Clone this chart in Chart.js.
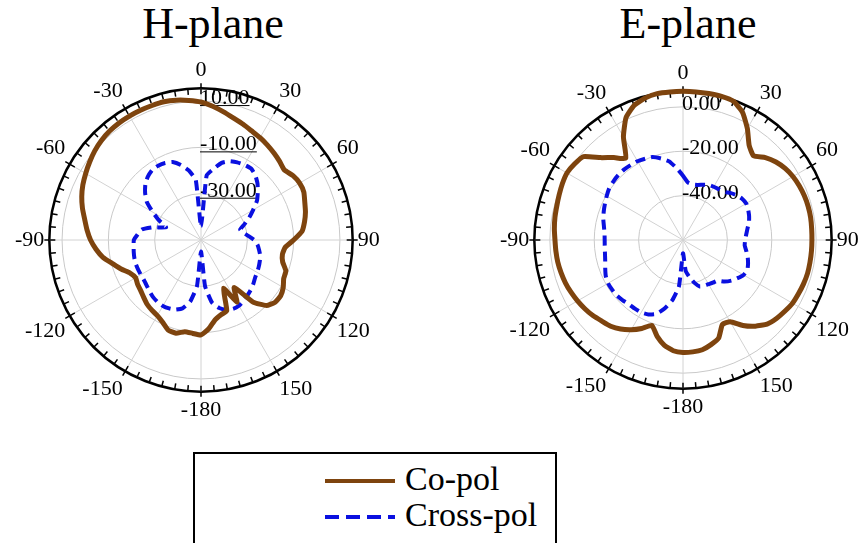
<!DOCTYPE html>
<html>
<head>
<meta charset="utf-8">
<script src="https://cdn.jsdelivr.net/npm/chart.js@4.4.1/dist/chart.umd.min.js"></script>
<style>
  body { margin: 0; width: 862px; height: 543px; background: #fff; position: relative; overflow: hidden; font-family: "Liberation Serif", serif; }
  .title { position: absolute; top: 2px; width: 220px; text-align: center; font-size: 44px; line-height: 44px; color: #000; }
  canvas { position: absolute; }
  #legendBox { position: absolute; left: 193px; top: 452px; width: 360px; height: 110px; border: 2.5px solid #000; }
  .legText { position: absolute; left: 405px; font-size: 34px; line-height: 34px; color: #000; }
  .legLine { position: absolute; left: 325px; }
</style>
</head>
<body>
<div class="title" style="left:103px">H-plane</div>
<div class="title" style="left:578px">E-plane</div>
<canvas id="hPlane" width="372" height="372" style="left:12px; top:54px"></canvas>
<canvas id="ePlane" width="366" height="366" style="left:497px; top:57px"></canvas>
<div id="legendBox"></div>
<svg class="legLine" style="top:476px" width="72" height="10"><line x1="0" y1="5" x2="70" y2="5" stroke="#7e440e" stroke-width="4"/></svg>
<div class="legText" style="top:462px">Co-pol</div>
<svg class="legLine" style="top:512px" width="72" height="10"><line x1="0" y1="5" x2="70" y2="5" stroke="#0a10e0" stroke-width="4" stroke-dasharray="14 7"/></svg>
<div class="legText" style="top:498px">Cross-pol</div>
<script>
// angles every 5 degrees, clockwise from top
const angleLabels = [];
for (let a = 0; a < 360; a += 5) angleLabels.push(String(a <= 150 ? a : a - 360));

// H-plane (dB)
const hCoPol = [
  9.6, 8, 6.2, 4.5, 3.2, 1.9, 1, 0, -1, -2, -3, -1.5,
  -0.8, -1, -2.3, -3.3, -4.6, -6.2, -10, -13.5, -14.3, -13.5, -11, -10.6,
  -9, -8, -8.2, -10, -15, -25, -19, -27, -17.5, -16.6, -15, -11.5,
  -9, -9.5, -9.8, -8.3, -8.6, -10.8, -12.3, -13, -13.8, -15, -16, -16.6,
  -17.4, -16.2, -13.3, -10.5, -7, -4.5, -2.3, -0.6, 1, 3, 4.8, 6.3,
  7.5, 8.7, 9.9, 10.8, 11.4, 11.7, 11.8, 11.8, 11.8, 11.8, 11.3, 10.5
];
const hCrossPol = [
  -44, -22, -18.8, -15.5, -13.8, -13, -12.5, -12.3, -13.5, -15.5, -18, -20.5,
  -24, -27, -30, -32.5, -31.5, -29.5, -27, -25.5, -24.5, -23.5, -23, -22.5,
  -22, -21.5, -20.5, -19.6, -18.8, -18, -17.2, -17.2, -18, -19.6, -22.5, -30,
  -45, -30, -23, -19.5, -18, -17.4, -17.1, -17.3, -17.8, -18.6, -19.4, -19.9,
  -20, -20, -20, -20.2, -20.5, -20.8, -21, -22.5, -24, -28.8, -34, -30,
  -26, -21.5, -18.5, -16, -14.3, -13.2, -13, -13.3, -14.2, -16.5, -19.5, -24
];
const hRange = [-50, 15.5];
const hRings = [-30, -10, 10];

// E-plane (dB)
const eCoPol = [
  7, 7, 7, 7, 6.5, 3.5, -2, -8, -10.5, -7.5, -5.3, -3.8,
  -2.8, -2.2, -1.8, -1.6, -1.6, -1.8, -1.9, -1.9, -1.9, -1.9, -2.2, -2.6,
  -3, -4, -5, -6.4, -9.3, -13, -17.5, -18, -13, -11.2, -9.8, -9.4,
  -9.3, -9.9, -11.8, -15, -19, -16, -13.3, -11, -9.3, -8.3, -7, -6,
  -5.1, -4.3, -3.6, -3.1, -2.7, -2.5, -2.3, -1.8, -1.4, -1.1, -0.6, 0,
  0.4, -0.3, -1.5, -7.5, -11.5, -15, -6.3, 0.8, 4.5, 6.2, 7, 7
];
const eCrossPol = [
  -31, -34, -34.6, -34.3, -33.5, -32.6, -32.3, -32, -31.6, -30, -28.5, -27.5,
  -27.1, -27.6, -28.3, -29.2, -30.5, -31.4, -32, -32.1, -31, -29.8, -28.8, -28,
  -28.5, -30, -31.5, -33.5, -36, -36.5, -37, -37.3, -37.7, -40, -43, -46,
  -54, -39, -32.5, -28, -24.5, -23, -22.3, -22.2, -22.2, -21.6, -21.1, -21,
  -21, -21.6, -22.7, -23.7, -24.3, -24.6, -24.7, -24.5, -23.8, -22.8, -22, -21.2,
  -20.3, -19.4, -19, -18.7, -18.6, -18.8, -19, -19.6, -20.2, -22, -24, -27.5
];
const eRange = [-60, 7];
const eRings = [-40, -20, 0];

const coColor = '#7e440e';
const crossColor = '#0a10e0';
const serif = '"Liberation Serif", "Times New Roman", serif';

// short marks round the outer ring, one per label (5 deg), longer every 30 deg
const ringTicks = {
  id: 'ringTicks',
  beforeDatasetsDraw(chart) {
    const s = chart.scales.r, c = chart.ctx;
    const R = s.drawingArea;
    c.save();
    c.strokeStyle = '#000';
    c.lineWidth = 1.5;
    for (let i = 0; i < chart.data.labels.length; i++) {
      const major = i % 6 === 0;
      const a = s.getPointPosition(i, R - 6);
      const b = s.getPointPosition(i, R + (major ? 5 : 0));
      c.beginPath(); c.moveTo(a.x, a.y); c.lineTo(b.x, b.y); c.stroke();
    }
    c.restore();
  }
};

// dB labels along the top spoke, left aligned like the original plot
const ringLabels = {
  id: 'ringLabels',
  beforeDatasetsDraw(chart, args, opts) {
    const s = chart.scales.r, c = chart.ctx;
    c.save();
    c.font = '22px ' + serif;
    c.fillStyle = '#000';
    c.textAlign = 'left';
    c.textBaseline = 'alphabetic';
    opts.values.forEach(v => {
      const y = s.yCenter - s.getDistanceFromCenterForValue(v) + 3;
      const txt = v.toFixed(2);
      c.fillText(txt, s.xCenter - 1, y);
      if (opts.underline) c.fillRect(s.xCenter - 1, y + 1, c.measureText(txt).width, 1);
    });
    c.restore();
  }
};

function polar(id, co, cross, range, rings, underline) {
  const [lo, hi] = range;
  new Chart(document.getElementById(id), {
    type: 'radar',
    data: {
      labels: angleLabels,
      datasets: [
        { label: 'Co-pol', data: co, borderColor: coColor, borderWidth: 5, fill: false, pointRadius: 0, tension: 0.15 },
        { label: 'Cross-pol', data: cross, borderColor: crossColor, borderWidth: 4, borderDash: [10, 6], fill: false, pointRadius: 0, tension: 0.15 }
      ]
    },
    plugins: [ringTicks, ringLabels],
    options: {
      responsive: false,
      animation: false,
      plugins: {
        legend: { display: false },
        tooltip: { enabled: false },
        ringLabels: { values: rings, underline: underline }
      },
      scales: {
        r: {
          min: lo,
          max: hi,
          afterBuildTicks: axis => { axis.ticks = [lo].concat(rings, [hi]).map(v => ({ value: v })); },
          ticks: { display: false },
          grid: {
            circular: true,
            color: ctx => ctx.tick && ctx.tick.value === hi ? '#000' : '#c9c9c9',
            lineWidth: ctx => ctx.tick && ctx.tick.value === hi ? 2.5 : 1
          },
          angleLines: {
            color: '#d2d2d2',
            lineWidth: ctx => ctx.index % 6 === 0 ? 1 : 0
          },
          pointLabels: {
            color: '#000',
            padding: 5,
            font: { family: serif, size: 22 },
            callback: (label, i) => i % 6 === 0 ? label : ''
          }
        }
      }
    }
  });
}

polar('hPlane', hCoPol, hCrossPol, hRange, hRings, true);
polar('ePlane', eCoPol, eCrossPol, eRange, eRings, false);
</script>
</body>
</html>
